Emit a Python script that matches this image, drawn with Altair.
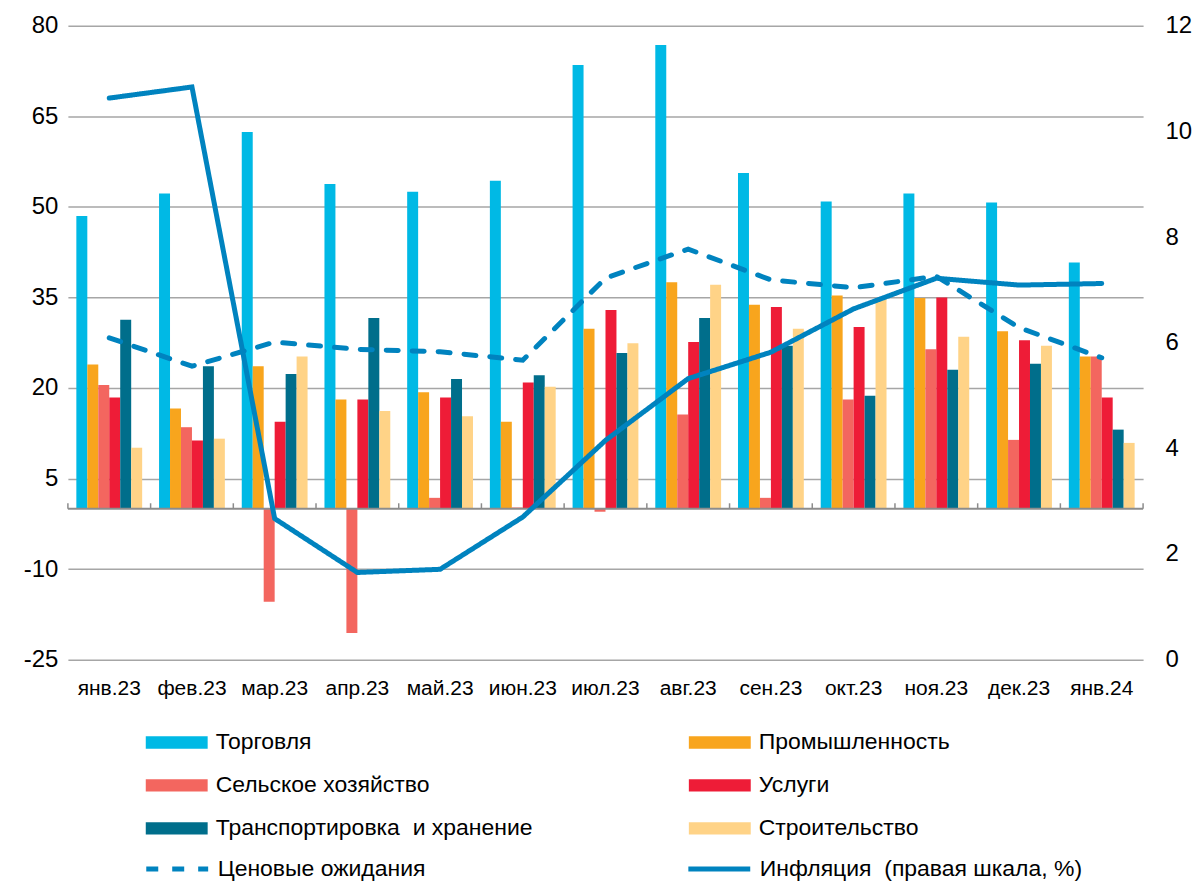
import altair as alt
import pandas as pd

months = ['янв.23', 'фев.23', 'мар.23', 'апр.23', 'май.23', 'июн.23', 'июл.23',
          'авг.23', 'сен.23', 'окт.23', 'ноя.23', 'дек.23', 'янв.24']

trade = [48.5, 52.2, 62.4, 53.8, 52.5, 54.3, 73.5, 76.8, 55.6, 50.9, 52.2, 50.7, 40.8]
industry = [23.9, 16.6, 23.6, 18.1, 19.3, 14.4, 29.8, 37.5, 33.8, 35.3, 34.9, 29.4, 25.2]
agriculture = [20.5, 13.5, -15.4, -20.6, 1.8, 0.2, -0.5, 15.6, 1.8, 18.1, 26.4, 11.4, 25.2]
services = [18.4, 11.3, 14.4, 18.1, 18.4, 20.9, 32.9, 27.6, 33.4, 30.1, 35.0, 27.9, 18.4]
transport = [31.3, 23.6, 22.3, 31.6, 21.5, 22.1, 25.8, 31.6, 27.0, 18.7, 23.0, 24.0, 13.1]
construction = [10.1, 11.6, 25.2, 16.2, 15.3, 20.2, 27.4, 37.1, 29.8, 34.9, 28.5, 27.0, 10.9]

price_expectations = [28.3, 23.6, 27.6, 26.4, 26.0, 24.6, 38.2, 43.0, 37.9, 36.6, 38.5, 30.0, 25.0]
inflation = [10.63, 10.84, 2.67, 1.65, 1.71, 2.70, 4.15, 5.32, 5.82, 6.64, 7.22, 7.09, 7.12]

# bar order inside each month group
bar_series = ['Торговля', 'Промышленность', 'Сельское хозяйство', 'Услуги',
              'Транспортировка\u00a0 и хранение', 'Строительство']
bar_colors = ['#00B9E5', '#F8A51D', '#F3665F', '#EE1C37', '#006E8B', '#FFD387']
# legend order (legend fills column by column)
legend_order = [0, 2, 4, 1, 3, 5]
legend_series = [bar_series[i] for i in legend_order]
legend_colors = [bar_colors[i] for i in legend_order]

line_series = ['Ценовые ожидания', 'Инфляция\u00a0 (правая шкала, %)']
line_color = '#0083BF'

left_ticks = [-25, -10, 5, 20, 35, 50, 65, 80]
right_ticks = [0, 2, 4, 6, 8, 10, 12]

rows = []
for name, vals in zip(bar_series, [trade, industry, agriculture, services, transport, construction]):
    for m, v in zip(months, vals):
        rows.append({'month': m, 'series': name, 'value': v})
bars_df = pd.DataFrame(rows)
exp_df = pd.DataFrame({'month': months, 'value': price_expectations, 'series': line_series[0]})
infl_df = pd.DataFrame({'month': months, 'value': inflation, 'series': line_series[1]})
zero_df = pd.DataFrame({'value': [0]})
tick_df = pd.DataFrame({'month': months})
end_tick_df = pd.DataFrame({'month': [months[-1]]})

FONT = 'Liberation Sans'
x_axis = alt.Axis(title=None, labelAngle=0, domain=False, ticks=False, labelFontSize=21,
                  labelPadding=18, labelColor='black')
x_scale = alt.Scale(paddingInner=0, paddingOuter=0)
X = alt.X('month:N', sort=months, scale=x_scale, axis=x_axis)

y_scale = alt.Scale(domain=[-25, 80], nice=False, zero=False)
y_axis = alt.Axis(title=None, values=left_ticks, grid=True, domain=False, ticks=False,
                  labelFontSize=24, labelPadding=10, minExtent=55, maxExtent=55,
                  labelExpr="datum.value < 0 ? '-' + abs(datum.value) : datum.label",
                  gridColor='#A6A6A6', gridWidth=1.5, labelColor='black')
Y = alt.Y('value:Q', scale=y_scale, axis=y_axis)

dash_scale = alt.Scale(domain=line_series, range=[[12, 14], [1, 0]])
legend_lines = alt.Legend(title=None, orient='none', legendX=76, legendY=811, columns=2,
                          columnPadding=252, symbolType='stroke', symbolSize=3844,
                          symbolStrokeWidth=5, symbolStrokeColor=line_color,
                          labelFontSize=23, labelOffset=7, labelLimit=600,
                          labelColor='black', padding=0)
legend_bars = alt.Legend(title=None, orient='none', legendX=78, legendY=687, columns=2,
                         columnPadding=156, rowPadding=0,
                         symbolType='M-1,-0.2H1V0.2H-1Z', symbolSize=3844,
                         symbolStrokeWidth=0, symbolOpacity=1, labelFontSize=23,
                         labelOffset=8, labelLimit=600, labelColor='black', padding=0)

bars = alt.Chart(bars_df).mark_bar().encode(
    x=X,
    xOffset=alt.XOffset('series:N', sort=bar_series,
                        scale=alt.Scale(paddingInner=0, paddingOuter=0.77)),
    y=Y,
    color=alt.Color('series:N',
                    scale=alt.Scale(domain=legend_series, range=legend_colors),
                    legend=legend_bars),
)

zero_rule = alt.Chart(zero_df).mark_rule(color='#8C8C8C', strokeWidth=2).encode(y=Y)

ticks = alt.Chart(tick_df).mark_rule(color='#8C8C8C', strokeWidth=1.5).encode(
    x=alt.X('month:N', sort=months, scale=x_scale, axis=x_axis, bandPosition=0),
    y=alt.datum(0), y2=alt.datum(0.9))
end_tick = alt.Chart(end_tick_df).mark_rule(color='#8C8C8C', strokeWidth=1.5).encode(
    x=alt.X('month:N', sort=months, scale=x_scale, axis=x_axis, bandPosition=1),
    y=alt.datum(0), y2=alt.datum(0.9))

exp_line = alt.Chart(exp_df).mark_line(color=line_color, strokeWidth=5, strokeCap='round').encode(
    x=X, y=Y,
    strokeDash=alt.StrokeDash('series:N', scale=dash_scale, legend=legend_lines))

inner = alt.layer(bars, zero_rule, ticks, end_tick, exp_line)

infl_line = alt.Chart(infl_df).mark_line(color=line_color, strokeWidth=5, strokeCap='round').encode(
    x=X,
    y=alt.Y('value:Q', scale=alt.Scale(domain=[0, 12], nice=False),
            axis=alt.Axis(orient='right', values=right_ticks, title=None, grid=False,
                          domain=False, ticks=False, labelFontSize=24, labelPadding=22,
                          labelColor='black')),
    strokeDash=alt.StrokeDash('series:N', scale=dash_scale, legend=legend_lines))

chart = alt.layer(inner, infl_line).resolve_scale(y='independent').properties(
    width=1077, height=635,
    padding={'left': 5, 'top': 5, 'right': 0, 'bottom': 5}
).configure_view(stroke=None).configure_axis(labelFont=FONT).configure_legend(labelFont=FONT)

chart.save("out.html", embed_options={"renderer": "svg", "actions": False})
